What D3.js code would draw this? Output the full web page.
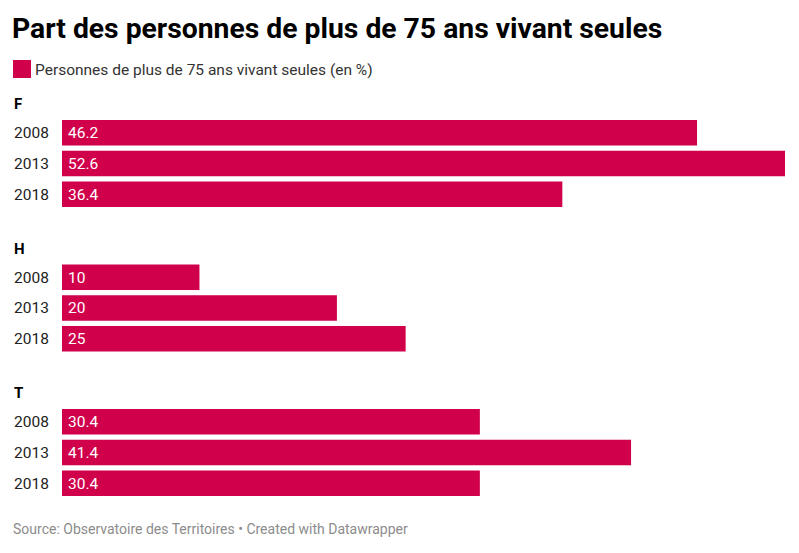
<!DOCTYPE html>
<html>
<head>
<meta charset="utf-8">
<script src="https://cdn.jsdelivr.net/npm/d3@7"></script>
<style>
  body { margin: 0; background: #fff; font-family: Roboto, "Noto Sans", sans-serif; }
</style>
</head>
<body>
<div id="chart"></div>
<script>
var groups = ["F", "H", "T"];
var years = ["2008", "2013", "2018"];
var valuesF = [46.2, 52.6, 36.4];
var valuesH = [10, 20, 25];
var valuesT = [30.4, 41.4, 30.4];
var seriesName = "Personnes de plus de 75 ans vivant seules (en %)";

var w = 799, h = 553;
var color = "#d1004b";

var svg = d3.select("#chart").append("svg")
    .attr("width", w)
    .attr("height", h);

// title + legend
svg.append("text")
    .attr("x", 12).attr("y", 38)
    .style("font-size", "28.3px").style("font-weight", "bold").style("fill", "#000")
    .text("Part des personnes de plus de 75 ans vivant seules");

svg.append("rect")
    .attr("x", 13).attr("y", 60).attr("width", 18).attr("height", 18)
    .attr("fill", color);
svg.append("text")
    .attr("x", 35).attr("y", 75)
    .style("font-size", "15.5px").style("fill", "#333")
    .text(seriesName);

var data = [valuesF, valuesH, valuesT];

var x = d3.scaleLinear().domain([0, 52.6]).range([62, 785]);

var yGroup = d3.scaleBand().domain(groups).range([120, 553.5]).paddingInner(0);
var yYear = d3.scaleBand().domain(years).range([0, 87]).paddingInner(0.17);

groups.forEach(function (grp, gi) {
    var g = svg.append("g").attr("transform", "translate(0," + yGroup(grp) + ")");

    g.append("text")
        .attr("x", 14).attr("y", -11)
        .style("font-size", "15px").style("font-weight", "bold").style("fill", "#000")
        .text(grp);

    var rows = years.map(function (yr, i) { return { year: yr, v: data[gi][i] }; });

    g.selectAll("rect.bar")
        .data(rows)
        .enter()
        .append("rect")
        .attr("class", "bar")
        .attr("x", x(0))
        .attr("y", d => yYear(d.year))
        .attr("width", d => x(d.v) - x(0))
        .attr("height", yYear.bandwidth())
        .attr("fill", color);

    g.selectAll("text.year")
        .data(rows)
        .enter()
        .append("text")
        .attr("class", "year")
        .attr("x", 14)
        .attr("y", d => yYear(d.year) + yYear.bandwidth() / 2)
        .attr("dy", "0.35em")
        .style("font-size", "15.5px").style("fill", "#222")
        .text(d => d.year);

    g.selectAll("text.val")
        .data(rows)
        .enter()
        .append("text")
        .attr("class", "val")
        .attr("x", x(0) + 6)
        .attr("y", d => yYear(d.year) + yYear.bandwidth() / 2)
        .attr("dy", "0.35em")
        .style("font-size", "15.5px").style("fill", "#fff")
        .text(d => d.v);
});

svg.append("text")
    .attr("x", 13).attr("y", 534)
    .style("font-size", "14px").style("fill", "#8c8c8c")
    .text("Source: Observatoire des Territoires • Created with Datawrapper");
</script>
</body>
</html>
